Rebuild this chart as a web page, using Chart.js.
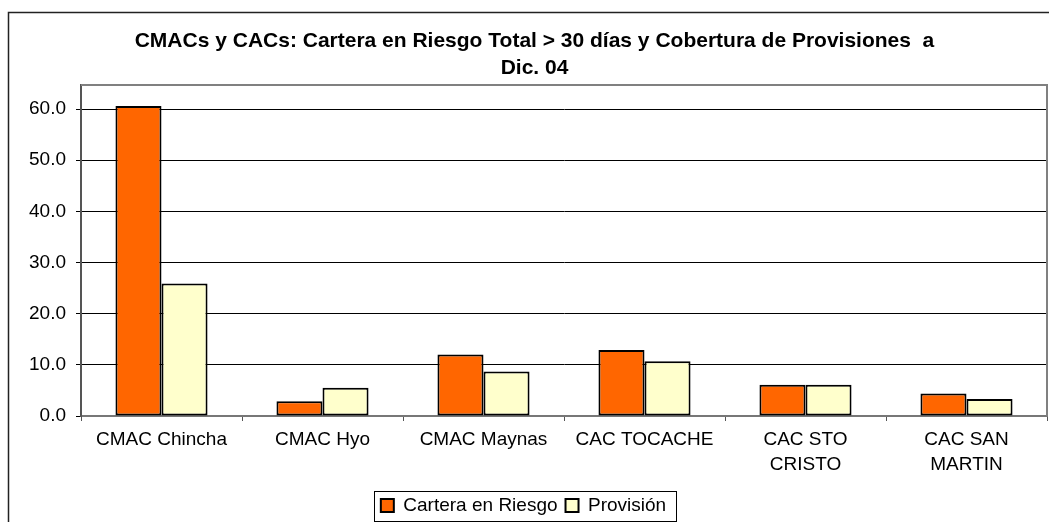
<!DOCTYPE html>
<html>
<head>
<meta charset="utf-8">
<script src="https://cdn.jsdelivr.net/npm/chart.js@4/dist/chart.umd.min.js"></script>
<style>
  html, body { margin: 0; padding: 0; background: #fff; }
  canvas { display: block; }
</style>
</head>
<body>
<canvas id="chart" width="1049" height="522"></canvas>
<script>
const categories = ['CMAC Chincha', 'CMAC Hyo', 'CMAC Maynas', 'CAC TOCACHE', ['CAC STO', 'CRISTO'], ['CAC SAN', 'MARTIN']];
const carteraEnRiesgo = [60.6, 2.9, 12.0, 12.9, 6.1, 4.4];
const provision = [25.9, 5.5, 8.7, 10.7, 6.1, 3.3];
const yTicks = [0, 10, 20, 30, 40, 50, 60];
const titleLines = ['CMACs y CACs: Cartera en Riesgo Total > 30 días y Cobertura de Provisiones  a', 'Dic. 04'];

const FONT = '"Liberation Sans", Arial, sans-serif';
const PLOT_LEFT = 81;
const PLOT_BOTTOM = 416;

// frame around the whole chart, plot border, legend box
const framePlugin = {
    id: 'frames',
    afterLayout(chart) {
        // title sits a bit right of the canvas centre in the original
        chart.titleBlock.left += 11;
        chart.titleBlock.right += 11;
        // legend slightly lower
        chart.legend.top += 3;
        chart.legend.bottom += 3;
    },
    beforeDraw(chart) {
        const ctx = chart.ctx;
        ctx.save();
        ctx.strokeStyle = '#222';
        ctx.lineWidth = 1.5;
        ctx.beginPath();
        ctx.moveTo(8.5, chart.height);
        ctx.lineTo(8.5, 12.5);
        ctx.lineTo(chart.width, 12.5);
        ctx.stroke();
        ctx.restore();
    },
    afterDatasetsDraw(chart) {
        const a = chart.chartArea;
        const ctx = chart.ctx;
        ctx.save();
        ctx.strokeStyle = '#808080';
        ctx.lineWidth = 2;
        ctx.beginPath();
        ctx.moveTo(a.left, a.top);
        ctx.lineTo(a.right, a.top);
        ctx.lineTo(a.right, a.bottom);
        ctx.stroke();
        ctx.restore();
    },
    afterDraw(chart) {
        const boxes = chart.legend.legendHitBoxes;
        if (!boxes || !boxes.length) return;
        let l = Infinity, r = -Infinity;
        boxes.forEach(b => { l = Math.min(l, b.left); r = Math.max(r, b.left + b.width); });
        const cy = boxes[0].top + boxes[0].height / 2;
        const ctx = chart.ctx;
        ctx.save();
        ctx.strokeStyle = '#000';
        ctx.lineWidth = 1;
        ctx.strokeRect(Math.round(l - 7) + 0.5, Math.round(cy - 15) + 0.5, Math.round(r - l + 17), 30);
        ctx.restore();
    }
};

new Chart(document.getElementById('chart'), {
    type: 'bar',
    data: {
        labels: categories,
        datasets: [
            {
                label: 'Cartera en Riesgo',
                data: carteraEnRiesgo,
                backgroundColor: '#FF6600',
                borderColor: '#000',
                borderWidth: 2,
                borderSkipped: false,
                categoryPercentage: 0.572,
                barPercentage: 1.0
            },
            {
                label: 'Provisión',
                data: provision,
                backgroundColor: '#FFFFCC',
                borderColor: '#000',
                borderWidth: 2,
                borderSkipped: false,
                categoryPercentage: 0.572,
                barPercentage: 1.0
            }
        ]
    },
    options: {
        responsive: false,
        animation: false,
        devicePixelRatio: 1,
        layout: { padding: { left: 0, right: 2, top: 0, bottom: 0 } },
        plugins: {
            title: {
                display: true,
                text: titleLines,
                color: '#000',
                font: { family: FONT, size: 21, weight: 'bold', lineHeight: 1.286 },
                padding: { top: 28, bottom: 3 }
            },
            legend: {
                display: true,
                position: 'bottom',
                labels: {
                    color: '#000',
                    font: { family: FONT, size: 19 },
                    boxWidth: 13,
                    boxHeight: 13,
                    padding: 8
                }
            },
            tooltip: { enabled: false }
        },
        scales: {
            x: {
                grid: {
                    display: true,
                    drawOnChartArea: false,
                    drawTicks: true,
                    tickLength: 5,
                    color: '#555',
                    offset: true
                },
                border: { color: '#777', width: 2 },
                ticks: {
                    color: '#000',
                    font: { family: FONT, size: 19, lineHeight: 1.32 },
                    padding: 6,
                    maxRotation: 0,
                    autoSkip: false
                },
                afterFit(scale) {
                    const legendH = scale.chart.legend ? scale.chart.legend.height : 0;
                    scale.height = scale.chart.height - PLOT_BOTTOM - legendH;
                }
            },
            y: {
                min: 0,
                max: 64.7,
                grid: {
                    color: '#000',
                    lineWidth: 1,
                    tickLength: 5
                },
                border: { color: '#555', width: 2 },
                ticks: {
                    stepSize: 10,
                    color: '#000',
                    padding: 10,
                    font: { family: FONT, size: 19 },
                    callback: v => v.toFixed(1)
                },
                afterBuildTicks(scale) {
                    scale.ticks = yTicks.map(v => ({ value: v }));
                },
                afterFit(scale) {
                    scale.width = PLOT_LEFT;
                }
            }
        }
    },
    plugins: [framePlugin]
});
</script>
</body>
</html>
